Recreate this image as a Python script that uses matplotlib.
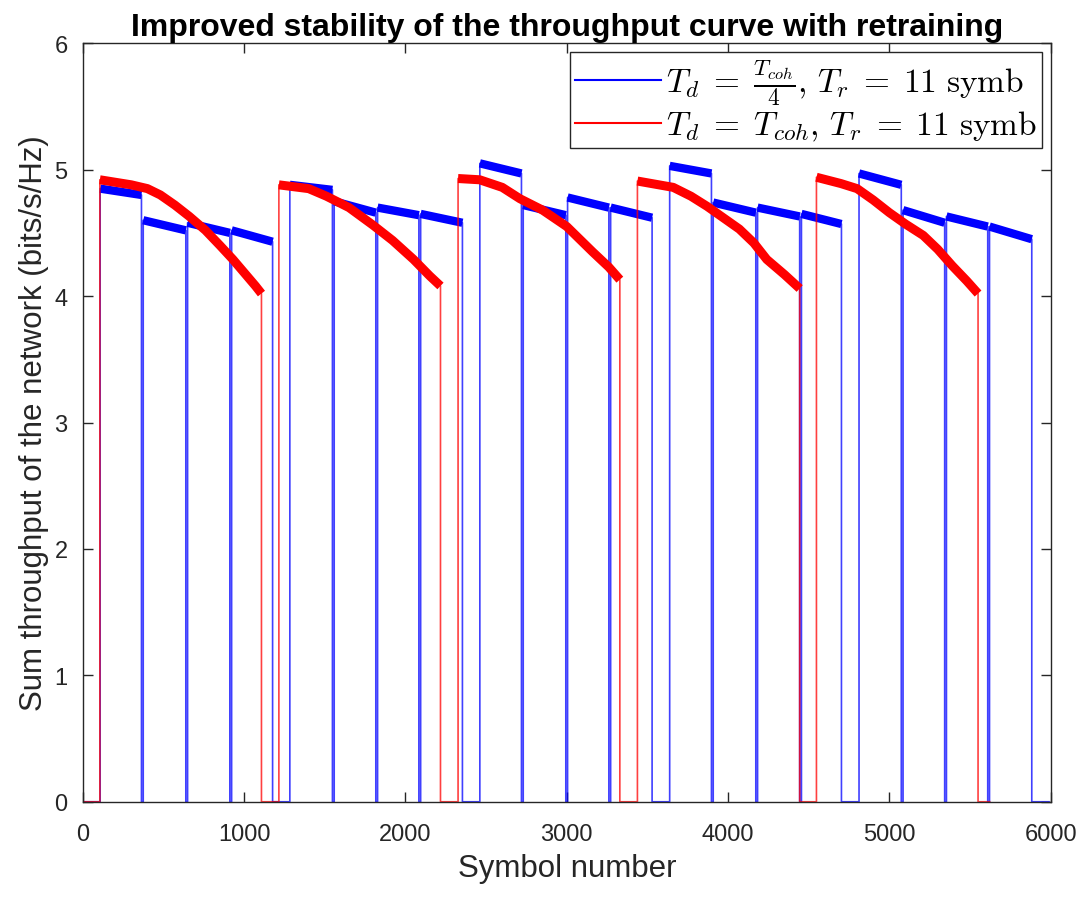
import matplotlib
matplotlib.use('Agg')
import matplotlib.pyplot as plt

"""
    Sum throughput vs symbol number, with and without retraining
"""

# blue series: T_d = T_coh/4 -> short blocks separated by 11-symbol retraining dips
blue_start = [107, 374, 649, 922, 1283, 1558, 1827, 2094, 2461, 2730,
              3005, 3272, 3638, 3908, 4183, 4455, 4812, 5085, 5354, 5621]
blue_end = [363, 638, 911, 1176, 1547, 1816, 2083, 2353, 2719, 2994,
            3261, 3529, 3897, 4172, 4444, 4703, 5074, 5343, 5610, 5883]
blue_first = [4.85, 4.60, 4.58, 4.52, 4.88, 4.75, 4.70, 4.65, 5.05, 4.72,
              4.78, 4.70, 5.03, 4.74, 4.70, 4.65, 4.97, 4.68, 4.63, 4.55]
blue_last = [4.80, 4.52, 4.50, 4.43, 4.84, 4.66, 4.64, 4.58, 4.97, 4.64,
             4.70, 4.62, 4.97, 4.66, 4.63, 4.57, 4.88, 4.58, 4.55, 4.45]
blue_stop = 5990

# red series: T_d = T_coh -> one long decaying block per coherence time
red_x = [[105, 300, 400, 480, 570, 660, 760, 850, 930, 1010, 1070, 1107],
         [1215, 1400, 1510, 1650, 1800, 1920, 2050, 2150, 2217],
         [2326, 2460, 2600, 2710, 2850, 3000, 3160, 3260, 3329],
         [3438, 3660, 3770, 3870, 3970, 4070, 4160, 4240, 4350, 4444],
         [4548, 4700, 4800, 4900, 5000, 5100, 5210, 5300, 5390, 5480, 5550]]
red_y = [[4.92, 4.88, 4.85, 4.80, 4.72, 4.63, 4.52, 4.40, 4.29, 4.17, 4.08, 4.02],
         [4.88, 4.85, 4.79, 4.70, 4.56, 4.44, 4.29, 4.16, 4.08],
         [4.93, 4.92, 4.86, 4.77, 4.68, 4.55, 4.35, 4.23, 4.13],
         [4.91, 4.86, 4.79, 4.71, 4.62, 4.53, 4.42, 4.29, 4.17, 4.06],
         [4.94, 4.89, 4.85, 4.76, 4.66, 4.57, 4.48, 4.37, 4.24, 4.12, 4.02]]
red_stop = 5622

xticks = [0, 1000, 2000, 3000, 4000, 5000, 6000]
yticks = [0, 1, 2, 3, 4, 5, 6]

plt.rcParams['font.family'] = ['Liberation Sans', 'DejaVu Sans']
plt.rcParams['mathtext.fontset'] = 'cm'

# full step paths (zero during retraining)
bx, by = [0], [0]
for s, e, a, b in zip(blue_start, blue_end, blue_first, blue_last):
    bx += [s, s, e, e]
    by += [0, a, b, 0]
bx.append(blue_stop)
by.append(0)

rx, ry = [0], [0]
for xs, ys in zip(red_x, red_y):
    rx += [xs[0]] + xs + [xs[-1]]
    ry += [0] + ys + [0]
rx.append(red_stop)
ry.append(0)

fig = plt.figure(figsize=(10.91, 9.03), dpi=100)
ax = fig.add_axes([0.076, 0.111, 0.887, 0.840])

lb, = ax.plot(bx, by, color='#0000ff', lw=1.2, alpha=0.75,
              label=r'$T_d\;=\;\frac{T_{coh}}{4},\,T_r\;=\;11\ \mathrm{symb}$')
for s, e, a, b in zip(blue_start, blue_end, blue_first, blue_last):
    ax.plot([s, e], [a, b], color='#0000ff', lw=6, solid_capstyle='butt')

lr, = ax.plot(rx, ry, color='#ff0000', lw=1.2, alpha=0.75,
              label=r'$T_d\;=\;T_{coh},\,T_r\;=\;11\ \mathrm{symb}$')
for xs, ys in zip(red_x, red_y):
    ax.plot(xs, ys, color='#ff0000', lw=6.5, solid_capstyle='butt',
            solid_joinstyle='round')

ax.set_xlim(0, 6000)
ax.set_ylim(0, 6)
ax.set_xticks(xticks)
ax.set_yticks(yticks)
ax.tick_params(direction='in', length=7, width=1, colors='#262626',
               labelsize=17, top=True, right=True)
ax.tick_params(axis='x', pad=15)
ax.tick_params(axis='y', pad=11)
for sp in ax.spines.values():
    sp.set_color('#262626')
    sp.set_linewidth(1.0)

ax.set_xlabel('Symbol number', fontsize=22.5, color='#262626', labelpad=6)
ax.set_ylabel('Sum throughput of the network (bits/s/Hz)', fontsize=22.5,
              color='#262626', labelpad=4)
ax.set_title('Improved stability of the throughput curve with retraining',
             fontsize=23, fontweight='bold', pad=6)

leg = ax.legend(handles=[lb, lr], loc='upper right', fontsize=24,
                handlelength=2.6, borderaxespad=0.25, fancybox=False,
                framealpha=1, edgecolor='#262626', labelspacing=0.05,
                handletextpad=0.15, borderpad=0.15)
for h in leg.get_lines():
    h.set_alpha(1)
    h.set_linewidth(1.5)

fig.savefig('out.png', dpi=100)
